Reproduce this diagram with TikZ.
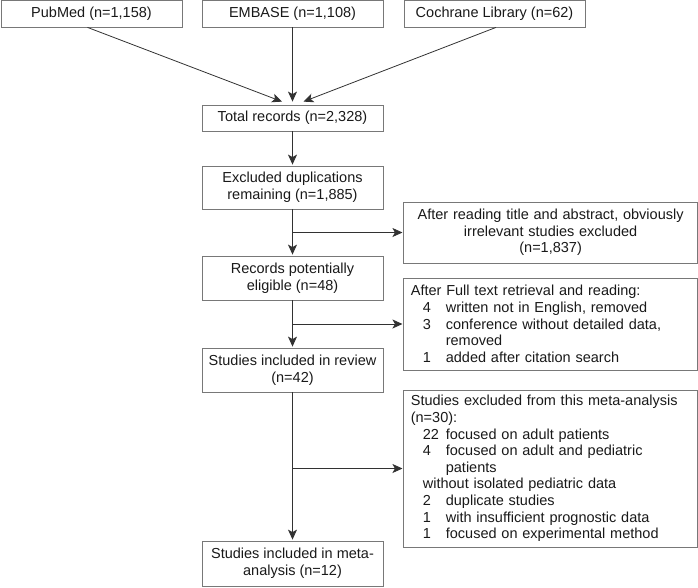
\documentclass[tikz,border=0pt]{standalone}
\usepackage{fontspec}
\setmainfont{Liberation Sans}
\usetikzlibrary{arrows.meta}
\definecolor{boxgray}{RGB}{120,120,120}
\definecolor{arrgray}{RGB}{50,50,50}
\definecolor{txt}{RGB}{25,25,25}
\begin{document}
\begin{tikzpicture}[x=1pt,y=-1pt,
  box/.style={draw=boxgray, line width=0.8pt, inner sep=0pt, text=txt,
    font=\fontsize{14.5}{16.6}\selectfont, align=center, minimum width=181pt},
  sidebox/.style={draw=boxgray, line width=0.8pt, inner xsep=7pt, inner ysep=0pt, text=txt,
    font=\fontsize{14.5}{16.6}\selectfont, text width=279.5pt},
  arr/.style={draw=arrgray, line width=0.8pt, -{Stealth[length=10pt,width=9pt,inset=2.5pt]}}]
\useasboundingbox (0,0) rectangle (698,587);

\node[box, minimum height=27pt] (pub) at (91.5,13.5) {PubMed (n=1,158)};
\node[box, minimum height=27pt] (emb) at (292.5,13.5) {EMBASE (n=1,108)};
\node[box, minimum height=27pt] (coc) at (494.5,13.5) {Cochrane Library (n=62)};
\node[box, minimum height=26pt] (tot) at (292.5,118) {Total records (n=2,328)};
\node[box, minimum height=43pt] (dup) at (292.5,187.5) {Excluded duplications\\remaining (n=1,885)};
\node[box, minimum height=44pt] (elig) at (292.5,278) {Records potentially\\eligible (n=48)};
\node[box, minimum height=44pt] (rev) at (292.5,370) {Studies included in review\\(n=42)};
\node[box, minimum height=45pt] (meta) at (292.5,563.5) {Studies included in meta-\\analysis (n=12)};

\node[sidebox, align=center, minimum height=61pt] (read) at (550.6,232.5)
  {After reading title and abstract, obviously\\irrelevant studies excluded\\(n=1,837)};
\node[sidebox, align=left, minimum height=92pt] (full) at (550.6,324)
  {After Full text retrieval and reading:\\
   \hspace*{12pt}\makebox[23pt][l]{4}written not in English, removed\\
   \hspace*{12pt}\makebox[23pt][l]{3}conference without detailed data,\\
   \hspace*{35pt}removed\\
   \hspace*{12pt}\makebox[23pt][l]{1}added after citation search};
\node[sidebox, align=left, minimum height=157pt] (exc) at (550.6,468.5)
  {Studies excluded from this meta-analysis\\
   (n=30):\\
   \hspace*{12pt}\makebox[23pt][l]{22}focused on adult patients\\
   \hspace*{12pt}\makebox[23pt][l]{4}focused on adult and pediatric\\
   \hspace*{35pt}patients\\
   \hspace*{12pt}without isolated pediatric data\\
   \hspace*{12pt}\makebox[23pt][l]{2}duplicate studies\\
   \hspace*{12pt}\makebox[23pt][l]{1}with insufficient prognostic data\\
   \hspace*{12pt}\makebox[23pt][l]{1}focused on experimental method};

\draw[arr] ([xshift=-4pt]pub.south) -- ([xshift=-10.5pt,yshift=3pt]tot.north);
\draw[arr] (emb.south) -- ([yshift=3pt]tot.north);
\draw[arr] ([xshift=1.5pt]coc.south) -- ([xshift=11pt,yshift=3pt]tot.north);
\draw[arr, shorten >=1pt] (tot) -- (dup);
\draw[arr, shorten >=1pt] (dup) -- (elig);
\draw[arr, shorten >=1pt] (elig) -- (rev);
\draw[arr, shorten >=1pt] (rev) -- (meta);
\draw[arr, shorten >=1pt] (dup.south |- read.west) -- (read.west);
\draw[arr, shorten >=1pt] (elig.south |- full.west) -- (full.west);
\draw[arr, shorten >=1pt] (rev.south |- exc.west) -- (exc.west);
\end{tikzpicture}
\end{document}
